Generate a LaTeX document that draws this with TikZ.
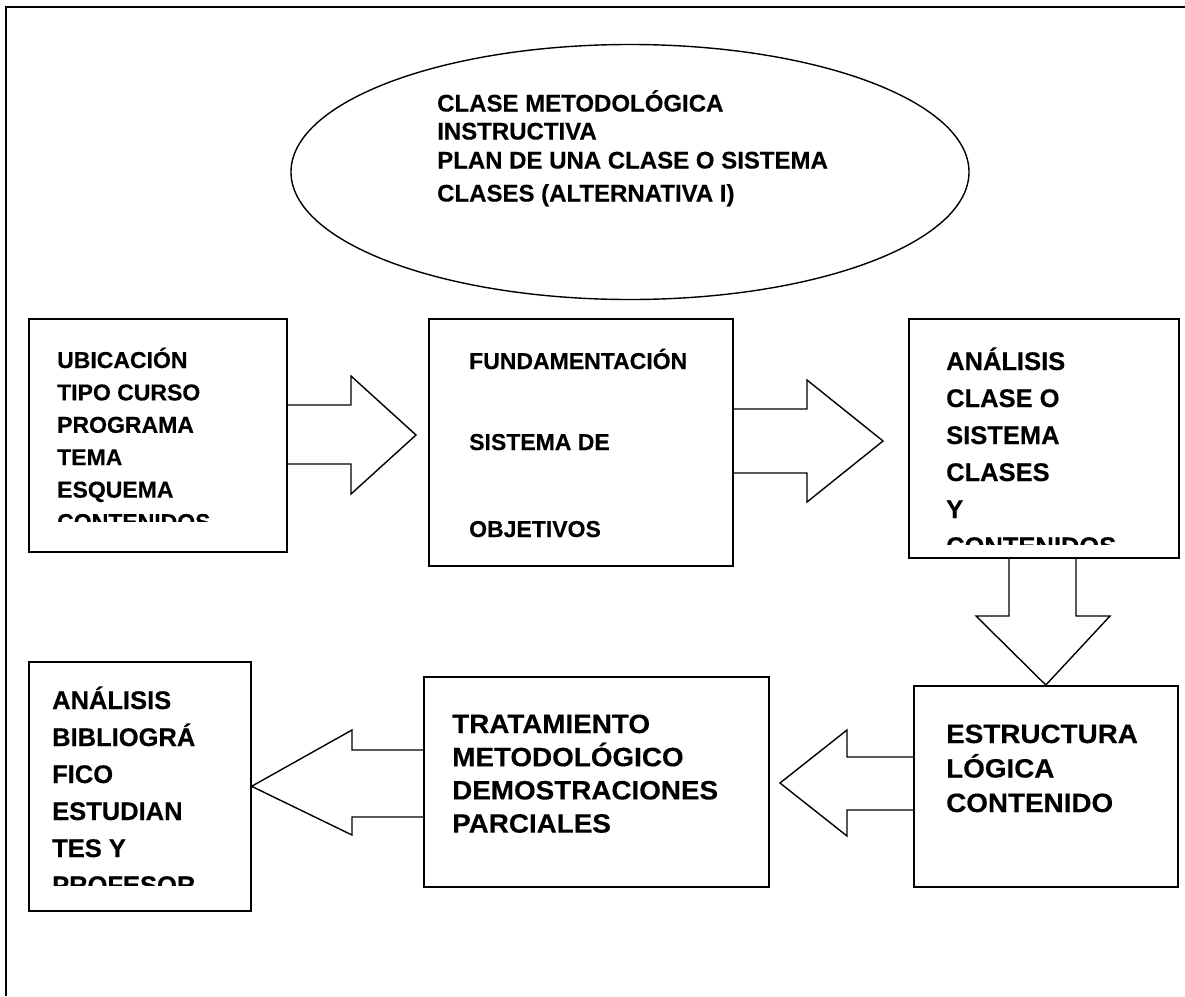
\documentclass[tikz,border=0pt]{standalone}
\usepackage{fontspec}
\setmainfont[BoldFeatures={FakeBold=0.35}]{Liberation Sans}
\newfontfamily\widesans[FakeStretch=1.05,BoldFeatures={FakeBold=0.35}]{Liberation Sans}
\usetikzlibrary{shapes.geometric}

\begin{document}
\begin{tikzpicture}[x=1pt,y=-1pt,
  frame/.style={line width=1.6pt},
  box/.style={draw, line width=1.6pt, rectangle, inner sep=0pt, anchor=north west},
  blockarrow/.style={draw, line width=1.4pt, line join=miter},
  plain/.style={anchor=base west, inner sep=0pt, font=\fontsize{23}{28}\selectfont\bfseries},
  title/.style={anchor=base west, inner sep=0pt, font=\fontsize{24}{28}\selectfont\bfseries},
  large/.style={anchor=base west, inner sep=0pt, font=\fontsize{25.5}{30}\selectfont\bfseries},
  wide/.style={anchor=base west, inner sep=0pt, font=\fontsize{26.5}{30}\selectfont\widesans\bfseries}]

\useasboundingbox (0,0) rectangle (1185,996);

% page frame (top and left edges)
\coordinate (fbl) at (6,996);
\coordinate (ftl) at (6,7);
\coordinate (ftr) at (1185,7);
\draw[frame] (fbl) -- (ftl) -- (ftr);

% title ellipse
\node[draw, ellipse, line width=1.4pt, minimum width=678, minimum height=255, inner sep=0pt] (ell) at (630,172) {};
\foreach \t/\yy [count=\k] in {CLASE METODOLÓGICA/111.5, INSTRUCTIVA/139.5, PLAN DE UNA CLASE O SISTEMA/168.5, CLASES (ALTERNATIVA I)/201.5}
  \node[title, name=e\k] at (437,\yy) {\t};

% boxes
\node[box, minimum width=258, minimum height=233] (b1) at (28,318) {};
\node[box, minimum width=304, minimum height=247] (b2) at (428,318) {};
\node[box, minimum width=270, minimum height=239] (b3) at (908,318) {};
\node[box, minimum width=264, minimum height=201] (b4) at (913,685) {};
\node[box, minimum width=345, minimum height=210] (b5) at (423,676) {};
\node[box, minimum width=222, minimum height=249] (b6) at (28,661) {};

% box texts
\begin{scope}
  \clip (28,318) rectangle (286,521);
  \foreach \t [count=\k from 0] in {UBICACIÓN, TIPO CURSO, PROGRAMA, TEMA, ESQUEMA, CONTENIDOS}
    \node[plain, name=a\k] at (57,{368+32.4*\k}) {\t};
\end{scope}

\node[plain] (f1) at (469,369) {FUNDAMENTACIÓN};
\node[plain] (f2) at (469,450) {SISTEMA DE};
\node[plain] (f3) at (469,537) {OBJETIVOS};

\begin{scope}
  \clip (908,318) rectangle (1178,544);
  \foreach \t [count=\k from 0] in {ANÁLISIS, CLASE O, SISTEMA, CLASES, Y, CONTENIDOS}
    \node[large, name=c\k] at (946,{370+37*\k}) {\t};
\end{scope}

\foreach \t [count=\k from 0] in {ESTRUCTURA, LÓGICA, CONTENIDO}
  \node[wide, name=d\k] at (946,{743+34.5*\k}) {\t};

\foreach \t [count=\k from 0] in {TRATAMIENTO, METODOLÓGICO, DEMOSTRACIONES, PARCIALES}
  \node[wide, name=g\k] at (452,{733+33.2*\k}) {\t};

\begin{scope}
  \clip (28,661) rectangle (250,885);
  \foreach \t [count=\k from 0] in {ANÁLISIS, BIBLIOGRÁ, FICO, ESTUDIAN, TES Y, PROFESOR}
    \node[large, name=h\k] at (52,{709+37*\k}) {\t};
\end{scope}

% block arrows between boxes
\draw[blockarrow] (b1.east |- 0,405) -- (351,405) -- (351,376) -- (416,435)
  -- (351,494) -- (351,464) -- (b1.east |- 0,464);
\draw[blockarrow] (b2.east |- 0,409) -- (807,409) -- (807,380) -- (883,441)
  -- (807,502) -- (807,473) -- (b2.east |- 0,473);
\draw[blockarrow] (b3.south -| 1009,0) -- (1009,616) -- (976,616) -- (b4.north)
  -- (1110,616) -- (1076,616) -- (b3.south -| 1076,0);
\draw[blockarrow] (b4.west |- 0,757) -- (847,757) -- (847,730) -- (780,783)
  -- (847,836) -- (847,810) -- (b4.west |- 0,810);
\draw[blockarrow] (b5.west |- 0,750) -- (352,750) -- (352,730) -- (b6.east)
  -- (352,835) -- (352,817) -- (b5.west |- 0,817);
\end{tikzpicture}
\end{document}
